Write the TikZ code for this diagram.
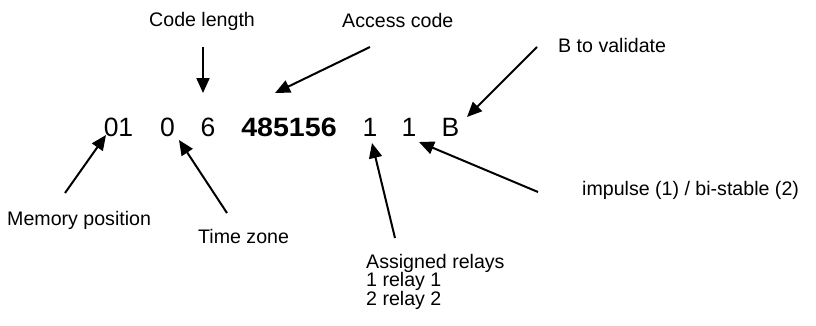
\documentclass[tikz,border=0pt]{standalone}
\usepackage{fontspec}
\setmainfont{Liberation Sans}
\usetikzlibrary{arrows.meta}
\tikzset{
  lbl/.style={inner sep=0pt, anchor=base west, font=\fontsize{19.6}{22}\selectfont},
  code/.style={inner sep=0pt, anchor=base, font=\fontsize{26.5}{30}\selectfont},
  arr/.style={line width=2pt, -{Triangle[length=15pt,width=13pt]}}
}
\begin{document}
\begin{tikzpicture}[x=1pt,y=-1pt]
\useasboundingbox (0,0) rectangle (816,325);
% labels
\node[lbl] (codelen) at (149,26.7) {Code length};
\node[lbl] (access) at (342,27) {Access code};
\node[lbl] (bval) at (558,52) {B to validate};
\node[lbl] (mem) at (7,225) {Memory position};
\node[lbl] (tz) at (198,243) {Time zone};
\node[lbl] (ar1) at (366,268) {Assigned relays};
\node[lbl] (ar2) at (366,286.5) {1 relay 1};
\node[lbl] (ar3) at (366,305) {2 relay 2};
\node[lbl] (imp) at (582,195) {impulse (1) / bi-stable (2)};
% code row
\node[code] (c01) at (118.5,136) {01};
\node[code] (c0) at (167.5,136) {0};
\node[code] (c6) at (208,136) {6};
\node[code] (cacc) at (289,136) {\scalebox{1.08}[1]{\bfseries 485156}};
\node[code] (r1) at (370,136) {1};
\node[code] (r2) at (409,136) {1};
\node[code] (cb) at (450.5,136) {B};
% arrow ends
\coordinate (t1) at (203,47);   \coordinate (h1) at (203,93);
\coordinate (t2) at (370,47);   \coordinate (h2) at (275,93);
\coordinate (t3) at (537,47);   \coordinate (h3) at (467,117);
\coordinate (t4) at (65,193);   \coordinate (h4) at (106,135);
\coordinate (t5) at (227,213);  \coordinate (h5) at (179,140);
\coordinate (t6) at (395,238);  \coordinate (h6) at (372,143);
\coordinate (t7) at (538,192);  \coordinate (h7) at (419,142);
\draw[arr] (t1) -- (h1);
\draw[arr] (t2) -- (h2);
\draw[arr] (t3) -- (h3);
\draw[arr] (t4) -- (h4);
\draw[arr] (t5) -- (h5);
\draw[arr] (t6) -- (h6);
\draw[arr] (t7) -- (h7);
\end{tikzpicture}
\end{document}
